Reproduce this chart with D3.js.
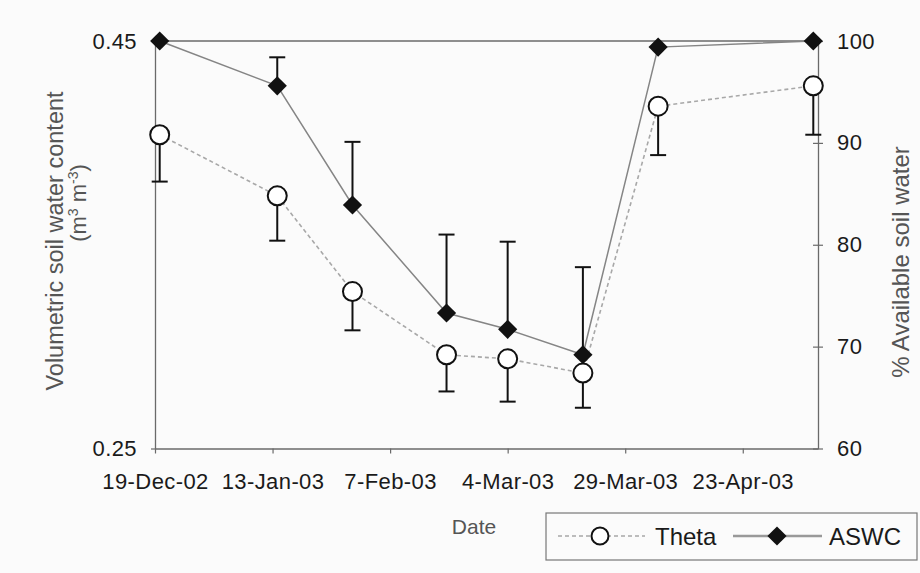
<!DOCTYPE html>
<html>
<head>
<meta charset="utf-8">
<script src="https://cdn.jsdelivr.net/npm/d3@7/dist/d3.min.js"></script>
<style>
  html, body { margin: 0; padding: 0; background: #fbfbfb; }
  svg { display: block; font-family: "Liberation Sans", Arial, sans-serif; }
</style>
</head>
<body>
<svg id="chart" width="920" height="573"></svg>
<script>
// Sampling dates (field measurements)
const dates = ["20-Dec-02", "14-Jan-03", "30-Jan-03", "19-Feb-03", "4-Mar-03", "20-Mar-03", "5-Apr-03", "8-May-03"];
// Volumetric soil water content (m3 m-3) and its lower error
const theta = [0.404, 0.374, 0.327, 0.296, 0.294, 0.287, 0.418, 0.428];
const thetaErr = [0.023, 0.022, 0.019, 0.018, 0.021, 0.017, 0.024, 0.024];
// Available soil water content (%) and its upper error
const aswc = [100, 95.6, 83.9, 73.3, 71.7, 69.2, 99.4, 100];
const aswcErr = [0, 2.8, 6.2, 7.7, 8.6, 8.6, 0, 0];
// Axis ticks
const xTickLabels = ["19-Dec-02", "13-Jan-03", "7-Feb-03", "4-Mar-03", "29-Mar-03", "23-Apr-03"];
const xDomain = ["19-Dec-02", "9-May-03"];
const leftTicks = [0.25, 0.45];
const rightTicks = [60, 70, 80, 90, 100];

const parse = d3.utcParse("%d-%b-%y");
const fmt = d3.utcFormat("%-d-%b-%y");

const svg = d3.select("#chart");
const L = 155, R = 818, T = 41, B = 448.5;
const axisColor = "#6a6a6a";
const labelStyle = sel => sel.attr("fill", "#1a1a1a").style("font-size", "22px")
  .style("letter-spacing", "0.4px")
  .style("font-family", "'Liberation Sans', Arial, sans-serif");

const x = d3.scaleUtc().domain(xDomain.map(parse)).range([L, R]);
const yL = d3.scaleLinear().domain([0.25, 0.45]).range([B, T]);
const yR = d3.scaleLinear().domain([60, 100]).range([B, T]);

// Top frame line
svg.append("line").attr("x1", L).attr("x2", R).attr("y1", T).attr("y2", T)
  .attr("stroke", axisColor).attr("stroke-width", 1.3);

// X axis
const xAxis = d3.axisBottom(x)
  .tickValues(xTickLabels.map(parse))
  .tickFormat(fmt)
  .tickSizeInner(5).tickSizeOuter(0).tickPadding(20);
const gx = svg.append("g").attr("transform", `translate(0,${B})`).call(xAxis);
gx.select(".domain").attr("stroke", axisColor).attr("stroke-width", 1.3);
gx.selectAll(".tick line").attr("stroke", axisColor).attr("stroke-width", 1.2);
gx.selectAll(".tick text").call(labelStyle);

// Left axis
const leftAxis = d3.axisLeft(yL).tickValues(leftTicks).tickFormat(d3.format(".2f"))
  .tickSizeInner(4).tickSizeOuter(0).tickPadding(14);
const gl = svg.append("g").attr("transform", `translate(${L},0)`).call(leftAxis);
gl.select(".domain").attr("stroke", axisColor).attr("stroke-width", 1.3);
gl.selectAll(".tick line").attr("stroke", axisColor).attr("stroke-width", 1.2);
gl.selectAll(".tick text").call(labelStyle);

// Right axis with crossing ticks
const rightAxis = d3.axisRight(yR).tickValues(rightTicks).tickFormat(d3.format("d"))
  .tickSizeInner(5).tickSizeOuter(0).tickPadding(14);
const gr = svg.append("g").attr("transform", `translate(${R},0)`).call(rightAxis);
gr.select(".domain").attr("stroke", axisColor).attr("stroke-width", 1.3);
gr.selectAll(".tick line").attr("x1", -5).attr("stroke", axisColor).attr("stroke-width", 1.2);
gr.selectAll(".tick text").call(labelStyle);

// Axis titles
svg.append("text").attr("transform", "translate(63,241) rotate(-90)")
  .attr("text-anchor", "middle").attr("fill", "#555").style("font-size", "23.5px")
  .text("Volumetric soil water content");
const lt2 = svg.append("text").attr("transform", "translate(86,203) rotate(-90)")
  .attr("text-anchor", "middle").attr("fill", "#555").style("font-size", "22px");
lt2.append("tspan").text("(m");
lt2.append("tspan").attr("dy", -8).style("font-size", "14px").text("3");
lt2.append("tspan").attr("dy", 8).text(" m");
lt2.append("tspan").attr("dy", -8).style("font-size", "14px").text("-3");
lt2.append("tspan").attr("dy", 8).text(")");

svg.append("text").attr("transform", "translate(909,262) rotate(-90)")
  .attr("text-anchor", "middle").attr("fill", "#555").style("font-size", "24px")
  .text("% Available soil water");

svg.append("text").attr("x", 474).attr("y", 534).attr("text-anchor", "middle")
  .attr("fill", "#555").style("font-size", "21px").text("Date");

const xs = dates.map(parse);
const thetaData = xs.map((d, i) => ({ d, v: theta[i], e: thetaErr[i] }));
const aswcData = xs.map((d, i) => ({ d, v: aswc[i], e: aswcErr[i] }));

// Theta series: dashed line, lower error bars, open circles
svg.append("path").datum(thetaData)
  .attr("d", d3.line().x(p => x(p.d)).y(p => yL(p.v)))
  .attr("fill", "none").attr("stroke", "#a8a8a8").attr("stroke-width", 1.6)
  .attr("stroke-dasharray", "4,3");

const capW = 8;
const tErr = svg.append("g").attr("stroke", "#111").attr("stroke-width", 2);
thetaData.filter(p => p.e > 0).forEach(p => {
  const cx = x(p.d), y0 = yL(p.v), y1 = yL(p.v - p.e);
  tErr.append("line").attr("x1", cx).attr("x2", cx).attr("y1", y0).attr("y2", y1);
  tErr.append("line").attr("x1", cx - capW).attr("x2", cx + capW).attr("y1", y1).attr("y2", y1);
});

// ASWC series: solid line, upper error bars, filled diamonds
svg.append("path").datum(aswcData)
  .attr("d", d3.line().x(p => x(p.d)).y(p => yR(p.v)))
  .attr("fill", "none").attr("stroke", "#858585").attr("stroke-width", 1.5);

const aErr = svg.append("g").attr("stroke", "#111").attr("stroke-width", 2);
aswcData.filter(p => p.e > 0).forEach(p => {
  const cx = x(p.d), y0 = yR(p.v), y1 = yR(p.v + p.e);
  aErr.append("line").attr("x1", cx).attr("x2", cx).attr("y1", y0).attr("y2", y1);
  aErr.append("line").attr("x1", cx - capW).attr("x2", cx + capW).attr("y1", y1).attr("y2", y1);
});

svg.append("g").selectAll("circle").data(thetaData).join("circle")
  .attr("cx", p => x(p.d)).attr("cy", p => yL(p.v)).attr("r", 9.5)
  .attr("fill", "#fff").attr("stroke", "#111").attr("stroke-width", 2);

const diamond = d3.symbol().type(d3.symbolDiamond2).size(235);
svg.append("g").selectAll("path").data(aswcData).join("path")
  .attr("transform", p => `translate(${x(p.d)},${yR(p.v)})`)
  .attr("d", diamond).attr("fill", "#111");

// Legend
const lg = svg.append("g");
lg.append("rect").attr("x", 546).attr("y", 513).attr("width", 371).attr("height", 47)
  .attr("fill", "#fbfbfb").attr("stroke", "#777").attr("stroke-width", 1.2);
lg.append("line").attr("x1", 558).attr("x2", 645).attr("y1", 536).attr("y2", 536)
  .attr("stroke", "#a8a8a8").attr("stroke-width", 1.6).attr("stroke-dasharray", "4,3");
lg.append("circle").attr("cx", 600).attr("cy", 536).attr("r", 8.5)
  .attr("fill", "#fff").attr("stroke", "#111").attr("stroke-width", 2);
lg.append("text").attr("x", 655).attr("y", 545).attr("fill", "#1a1a1a")
  .style("font-size", "24px").text("Theta");
lg.append("line").attr("x1", 733).attr("x2", 822).attr("y1", 536).attr("y2", 536)
  .attr("stroke", "#999").attr("stroke-width", 2.5);
lg.append("path").attr("transform", "translate(777,536)").attr("d", diamond).attr("fill", "#111");
lg.append("text").attr("x", 829).attr("y", 545).attr("fill", "#1a1a1a")
  .style("font-size", "24px").text("ASWC");
</script>
</body>
</html>
